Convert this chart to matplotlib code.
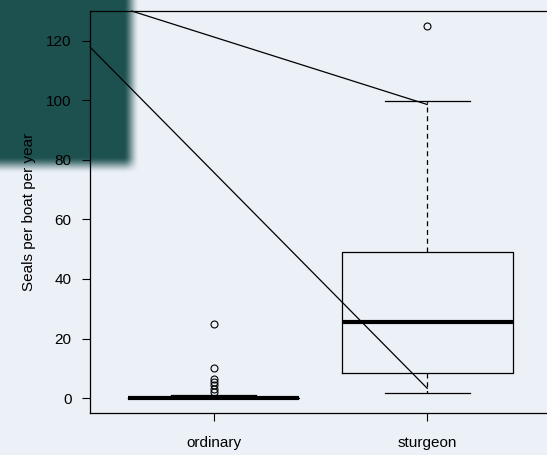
import numpy as np
import matplotlib
matplotlib.use("Agg")
from matplotlib import pyplot as plt

plt.rcParams["font.family"] = ["Liberation Sans", "DejaVu Sans"]
plt.rcParams["font.size"] = 11

groups = ["ordinary", "sturgeon"]
q1 = [0, 8.3]
med = [0, 25.4]
q3 = [0, 48.9]
whis_lo = [0, 1.8]
whis_hi = [1, 99.8]
outliers = [[25, 10.2, 6.4, 5.3, 4.3, 3.1, 2.0], [125]]
yticks = [0, 20, 40, 60, 80, 100, 120]

# two thin lines drawn across the plot
line_a_x = [0.615, 2]
line_a_y = [130, 98.6]
line_b_x = [0.42, 2]
line_b_y = [117.9, 3.3]

W, H = 547, 455
fig = plt.figure(figsize=(W / 100, H / 100), dpi=100)


def smooth(t):
    t = np.clip(t, 0, 1)
    return t * t * (3 - 2 * t)


# background: light grey-blue with a soft dark teal block top left
xx, yy = np.meshgrid(np.arange(W), np.arange(H))
mx = smooth((139 - xx) / 16)
my = smooth((173 - yy) / 17)
mask = (mx * my)[..., None]
light = np.array([236, 240, 247]) / 255
dark = np.array([29, 81, 80]) / 255
bg = light * (1 - mask) + dark * mask
bax = fig.add_axes([0, 0, 1, 1], zorder=-1)
bax.imshow(bg, extent=[0, W, H, 0], aspect="auto")
bax.axis("off")

ax = fig.add_axes([90 / W, 42 / H, 461 / W, 402 / H])
ax.set_facecolor("none")

stats = []
for i in range(len(groups)):
    stats.append(dict(label=groups[i], q1=q1[i], med=med[i], q3=q3[i],
                      whislo=whis_lo[i], whishi=whis_hi[i], fliers=outliers[i]))

lw = 0.9
ax.bxp(stats, positions=[1, 2], widths=0.8,
       boxprops=dict(color="black", lw=lw),
       medianprops=dict(color="black", lw=3, solid_capstyle="butt"),
       whiskerprops=dict(color="black", lw=lw, linestyle=(0, (4, 3))),
       capprops=dict(color="black", lw=lw),
       flierprops=dict(marker="o", mfc="none", mec="black", ms=5, mew=0.8))

ax.plot(line_a_x, line_a_y, color="black", lw=0.9, clip_on=False)
ax.plot(line_b_x, line_b_y, color="black", lw=0.9, clip_on=False)

ax.set_xlim(0.42, 2.58)
ax.set_ylim(-5, 130)
ax.set_yticks(yticks)
ax.set_xticks([1, 2])
ax.set_xticklabels(groups)
ax.tick_params(direction="out", length=5.8, width=0.8, colors="black")
ax.tick_params(axis="y", pad=7.5)
ax.tick_params(axis="x", pad=11)
for s in ax.spines.values():
    s.set_linewidth(0.9)

ax.set_ylabel("Seals per boat per year")
ax.yaxis.set_label_coords(-0.118, 0.5)

fig.savefig("out.png", dpi=100)
